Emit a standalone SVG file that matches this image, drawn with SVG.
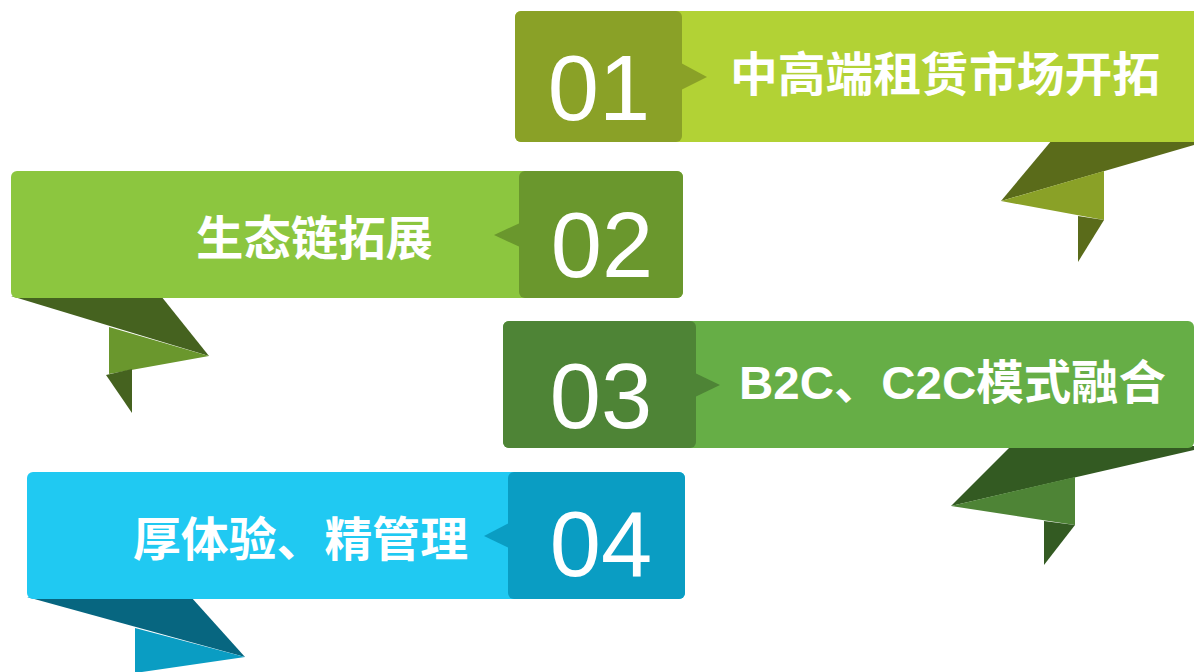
<svg xmlns="http://www.w3.org/2000/svg" width="1194" height="672" viewBox="0 0 1194 672">
<style>
.num{font-family:"Liberation Sans",Arial,sans-serif;font-size:92px;fill:#fff;text-anchor:middle}
.lbl{font-family:"Liberation Sans","Noto Sans CJK SC",sans-serif;font-weight:bold;font-size:47px;fill:#fff}
</style>
<rect width="1194" height="672" fill="#fff"/>
<g id="banner1">
<polygon points="1052,140 1194,140 1194,145 1001,201" fill="#5A6B1A"/>
<polygon points="1001,201 1104,171 1104,220" fill="#8AA127"/>
<polygon points="1078,216 1104,220 1078,262" fill="#5A6B1A"/>
<rect x="515" y="11" width="690" height="131" rx="6" fill="#B2D235"/>
<rect x="515" y="11" width="167" height="131" rx="6" fill="#8AA127"/>
<polygon points="681,63 707,77 681,90" fill="#8AA127"/>
<text class="num" x="599" y="120">01</text>
<text class="lbl" x="730" y="91" textLength="430" lengthAdjust="spacingAndGlyphs">中高端租赁市场开拓</text>
</g>
<g id="banner2">
<polygon points="11,296 161,296 209,356" fill="#45621F"/>
<polygon points="109,327 209,356 109,374" fill="#6A972D"/>
<polygon points="106,375 132,369 132,413" fill="#45621F"/>
<rect x="11" y="171" width="672" height="127" rx="6" fill="#8CC63F"/>
<rect x="519" y="171" width="164" height="127" rx="6" fill="#6A972D"/>
<polygon points="520,223 494,235 520,247" fill="#6A972D"/>
<text class="num" x="602" y="277">02</text>
<text class="lbl" x="196" y="255" textLength="237" lengthAdjust="spacingAndGlyphs">生态链拓展</text>
</g>
<g id="banner3">
<polygon points="1011,446 1194,446 1194,450 951,506" fill="#335A22"/>
<polygon points="951,506 1075,477 1075,525" fill="#4E8436"/>
<polygon points="1044,521 1075,525 1044,565" fill="#335A22"/>
<rect x="503" y="321" width="691" height="127" rx="6" fill="#66AE46"/>
<rect x="503" y="321" width="193" height="127" rx="6" fill="#4E8436"/>
<polygon points="695,373 720,385 695,397" fill="#4E8436"/>
<text class="num" x="601" y="428">03</text>
<text class="lbl" x="739" y="399" textLength="427" lengthAdjust="spacingAndGlyphs">B2C、C2C模式融合</text>
</g>
<g id="banner4">
<polygon points="27,597 191,597 245,657" fill="#076680"/>
<polygon points="135,628 245,657 135,673" fill="#0A9DC3"/>
<rect x="27" y="472" width="658" height="127" rx="6" fill="#20C9F2"/>
<rect x="508" y="472" width="177" height="127" rx="6" fill="#0A9DC3"/>
<polygon points="509,523 484,536 509,548" fill="#0A9DC3"/>
<text class="num" x="601" y="576">04</text>
<text class="lbl" x="133" y="556" textLength="335" lengthAdjust="spacingAndGlyphs">厚体验、精管理</text>
</g>
<g id="connectors"/>
</svg>
